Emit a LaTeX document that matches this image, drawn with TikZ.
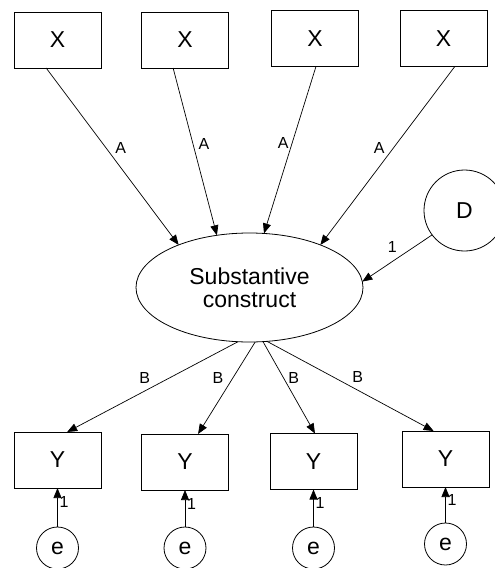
\documentclass[tikz,border=0pt]{standalone}
\usepackage{fontspec}
\setmainfont{Liberation Sans}
\usetikzlibrary{arrows.meta,shapes.geometric}
\begin{document}
\begin{tikzpicture}[x=1pt,y=-1pt,
  every node/.style={inner sep=0pt, outer sep=0pt},
  obs/.style={draw, line width=0.8pt, rectangle, minimum width=87pt, minimum height=56pt, font=\fontsize{23}{26}\selectfont},
  lat/.style={draw, line width=0.8pt, circle, font=\fontsize{23}{26}\selectfont},
  construct/.style={draw, line width=0.8pt, ellipse, minimum width=227pt, minimum height=109pt, align=center, font=\fontsize{23}{23}\selectfont},
  path/.style={draw, line width=0.7pt, -{Triangle[length=10pt,width=8pt]}},
  lbl/.style={font=\fontsize{16}{18}\selectfont}]
\useasboundingbox (0,0) rectangle (495,568);
% exogenous X
\node[obs] (x1) at (57.5,40) {X};
\node[obs] (x2) at (185,40) {X};
\node[obs] (x3) at (315,38.5) {X};
\node[obs] (x4) at (443.5,38.5) {X};
% construct
\node[construct] (sc) at (249.5,287.5) {Substantive\\construct};
% disturbance
\node[lat, minimum size=81pt] (d) at (464.5,210.5) {D};
% Y
\node[obs] (y1) at (57.5,460) {Y};
\node[obs] (y2) at (185,462) {Y};
\node[obs] (y3) at (313.5,461.5) {Y};
\node[obs] (y4) at (445.5,459) {Y};
% errors
\node[lat, minimum size=42pt] (e1) at (57.5,548) {e};
\node[lat, minimum size=42pt] (e2) at (185,548) {e};
\node[lat, minimum size=42pt] (e3) at (313.5,548) {e};
\node[lat, minimum size=42pt] (e4) at (445.5,544) {e};
% X -> construct
\path[path] (x1.-112) -- node[lbl, pos=0.45, xshift=15pt]{A} (sc.149.6);
\path[path] (x2.-113) -- node[lbl, pos=0.455, xshift=11pt]{A} (sc.122.5);
\path[path] (x3.-88) -- node[lbl, pos=0.458, xshift=-9pt]{A} (sc.75);
\path[path] (x4.-68) -- node[lbl, pos=0.458, xshift=-14pt]{A} (sc.31.7);
% D -> construct
\path[path] (d.-143.5) -- node[lbl, pos=0.27, xshift=-21pt]{1} (sc.3.8);
% construct -> Y
\path[path] (sc.-102) -- node[lbl, pos=0.4, xshift=-25pt]{B} (y1.71);
\path[path] (sc.-84) -- node[lbl, pos=0.39, xshift=-15pt]{B} (y2.65);
\path[path] (sc.-76) -- node[lbl, pos=0.4, xshift=10pt]{B} (y3.87);
\path[path] (sc.-72) -- node[lbl, pos=0.4, xshift=24pt]{B} (y4.113);
% e -> Y
\path[path] (e1.north) -- node[lbl, pos=0.63, anchor=west, xshift=2pt]{1} (y1.south);
\path[path] (e2.north) -- node[lbl, pos=0.63, anchor=west, xshift=2pt]{1} (y2.south);
\path[path] (e3.north) -- node[lbl, pos=0.63, anchor=west, xshift=2pt]{1} (y3.south);
\path[path] (e4.north) -- node[lbl, pos=0.63, anchor=west, xshift=2pt]{1} (y4.south);
\end{tikzpicture}
\end{document}
